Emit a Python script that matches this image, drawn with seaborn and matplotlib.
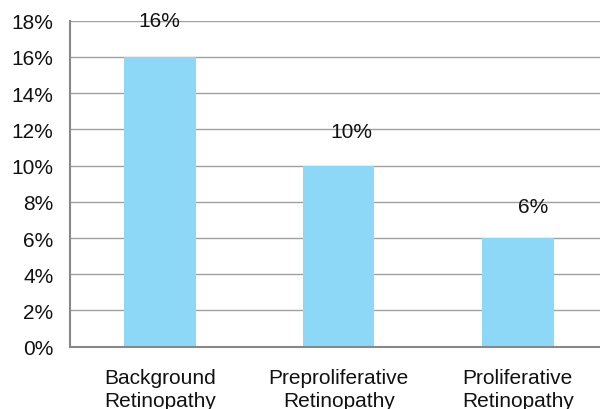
import pandas as pd
import seaborn as sns
import matplotlib.pyplot as plt
from matplotlib.ticker import FuncFormatter

categories = ['Background\nRetinopathy', 'Preproliferative\nRetinopathy', 'Proliferative\nRetinopathy']
values = [16, 10, 6]
labels = ['16%', '10%', '6%']

data = pd.DataFrame({'stage': categories, 'pct': values})

sns.set_style('white')
plt.rcParams['font.family'] = ['Liberation Sans', 'DejaVu Sans']

fig = plt.figure(figsize=(6, 4.1), dpi=100)
ax = fig.add_axes([0.117, 0.152, 0.895, 0.795])
sns.barplot(x='stage', y='pct', data=data, color='#8DD8F6', width=0.4, saturation=1,
            edgecolor='none', linewidth=0, ax=ax, zorder=2)

ax.set_ylim(0, 18)
ax.set_yticks(range(0, 19, 2))
ax.yaxis.set_major_formatter(FuncFormatter(lambda v, p: f'{v:.0f}%'))
ax.grid(axis='y', color='#A0A0A0', linewidth=1, zorder=0)
ax.set_axisbelow(True)

for s in ['top', 'right']:
    ax.spines[s].set_visible(False)
for s in ['left', 'bottom']:
    ax.spines[s].set_color('#888888')
    ax.spines[s].set_linewidth(1.5)

# label offsets (x in points, y in data units) as placed in the original
dx = [0, 9, 11]
dy = [2.0, 1.9, 1.75]
for i, (v, t) in enumerate(zip(values, labels)):
    ax.annotate(t, (i, v + dy[i]), xytext=(dx[i], 0), textcoords='offset points',
                ha='center', va='center', fontsize=15, color='#111111')

ax.tick_params(axis='y', labelsize=15, colors='#111111', length=0, pad=12)
ax.tick_params(axis='x', labelsize=15, colors='#111111', length=0, pad=15)
for lbl in ax.get_xticklabels():
    lbl.set_linespacing(1.3)
ax.set_xlabel('')
ax.set_ylabel('')

plt.savefig('out.png', dpi=100)
plt.close()
